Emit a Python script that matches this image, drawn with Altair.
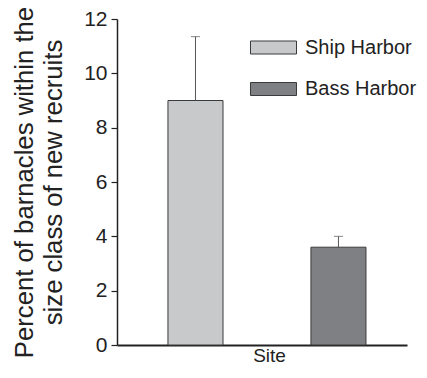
import altair as alt
import pandas as pd

sites = ["Ship Harbor", "Bass Harbor"]
means = [9.0, 3.6]
errors = [2.35, 0.4]
colors = ["#c8c9cb", "#7f8083"]
y_ticks = [0, 2, 4, 6, 8, 10, 12]

df = pd.DataFrame({"site": sites, "mean": means, "err": errors})
df["upper"] = df["mean"] + df["err"]

TXT = "#222222"

x_enc = alt.X(
    "site:N",
    sort=sites,
    scale=alt.Scale(paddingInner=0.615, paddingOuter=0.3217, align=0.554),
    axis=alt.Axis(
        title="Site", labels=False, ticks=False, domainWidth=2, domainColor=TXT,
        titleFontSize=19, titleFontWeight="normal", titleColor=TXT,
        titleBaseline="alphabetic", titleY=16.5, titleX=152,
    ),
)

y_scale = alt.Scale(domain=[0, 12], nice=False)

bars = alt.Chart(df).mark_bar(stroke="#3a3a3a", strokeWidth=1).encode(
    x=x_enc,
    y=alt.Y(
        "mean:Q",
        scale=y_scale,
        axis=alt.Axis(
            values=y_ticks, grid=False, tickSize=6, tickColor=TXT, tickWidth=1.2,
            domainColor=TXT, domainWidth=1.5,
            labelFontSize=21, labelColor=TXT, labelPadding=4,
            title=["Percent of barnacles within the", "size class of new recruits"],
            titleFontSize=25.7, titleFontWeight="normal", titleColor=TXT,
            titleLineHeight=29, titlePadding=17,
        ),
    ),
    fill=alt.Fill(
        "site:N",
        sort=sites,
        scale=alt.Scale(domain=sites, range=colors),
        legend=alt.Legend(
            title=None, orient="none", legendX=146.5, legendY=18.5, padding=0,
            symbolType="M-3.54,-1H3.54V1H-3.54Z", symbolSize=169,
            symbolStrokeColor="#3a3a3a", symbolStrokeWidth=1, symbolOpacity=1,
            labelFontSize=20, labelColor=TXT, labelOffset=21.5, rowPadding=21.5,
            labelLimit=0,
        ),
    ),
)

rules = alt.Chart(df).mark_rule(color="#555555", strokeWidth=1).encode(
    x=alt.X("site:N", sort=sites),
    y=alt.Y("mean:Q", scale=y_scale),
    y2="upper:Q",
)

caps = alt.Chart(df).mark_tick(color="#555555", size=9, thickness=1).encode(
    x=alt.X("site:N", sort=sites),
    y=alt.Y("upper:Q", scale=y_scale),
)

chart = (
    alt.layer(bars, rules, caps)
    .properties(
        width=290, height=326,
        autosize=alt.AutoSizeParams(type="none"),
        padding={"left": 109, "top": 11, "right": 12, "bottom": 21},
    )
    .configure(font="Liberation Sans")
    .configure_view(stroke=None)
)

chart.save("out.html", embed_options={"renderer": "svg", "actions": False})
